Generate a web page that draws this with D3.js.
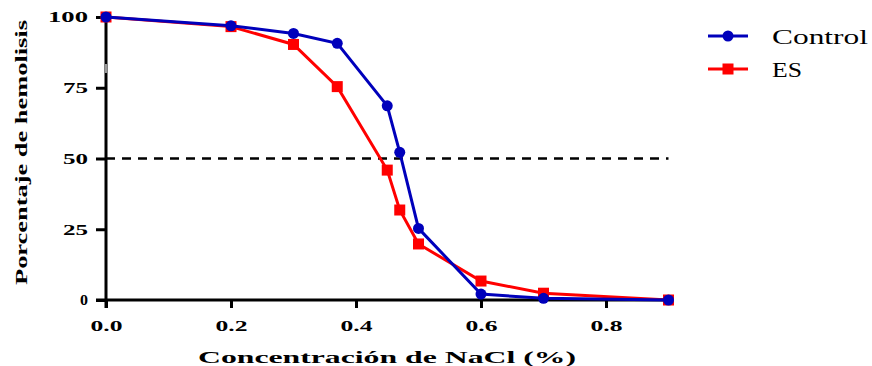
<!DOCTYPE html>
<html>
<head>
<meta charset="utf-8">
<script src="https://cdn.jsdelivr.net/npm/d3@7"></script>
<style>
  body { margin: 0; background: #fff; }
</style>
</head>
<body>
<div id="chart"></div>
<script>
// Data
var nacl      = [0, 0.2, 0.3, 0.37, 0.45, 0.47, 0.5, 0.6, 0.7, 0.9];
var control   = [100, 96.9, 94.2, 90.7, 68.6, 52.2, 25.3, 2.1, 0.6, 0];
var es        = [100, 96.6, 90.3, 75.4, 45.9, 31.8, 19.8, 6.7, 2.4, 0];
var x_ticks   = [0, 0.2, 0.4, 0.6, 0.8];
var y_ticks   = [0, 25, 50, 75, 100];

var chart_width  = 872;
var chart_height = 366;
var serif = 'Liberation Serif';

var x = d3.scaleLinear().domain([0, 0.9]).range([106, 668.5]);
var y = d3.scaleLinear().domain([0, 100]).range([300, 17]);

var svg = d3.select('#chart')
    .append('svg')
    .attr('width', chart_width)
    .attr('height', chart_height);

// stretched text like the original figure
function wide(sel, len){
    sel.style('font-family', serif)
        .attr('textLength', len)
        .attr('lengthAdjust', 'spacingAndGlyphs');
}

// dashed 50% line
svg.append('line')
    .attr('x1', x(0)).attr('x2', x(0.9))
    .attr('y1', y(50)).attr('y2', y(50))
    .attr('stroke', 'black')
    .attr('stroke-width', 2.5)
    .attr('stroke-dasharray', '9,7');

// axes
var x_axis = d3.axisBottom(x)
    .tickValues(x_ticks)
    .tickFormat(d3.format('.1f'))
    .tickSizeInner(8)
    .tickSizeOuter(0)
    .tickPadding(12);

var y_axis = d3.axisLeft(y)
    .tickValues(y_ticks)
    .tickSizeInner(10)
    .tickSizeOuter(0)
    .tickPadding(8);

var gx = svg.append('g')
    .attr('transform', 'translate(0,' + y(0) + ')')
    .call(x_axis);

var gy = svg.append('g')
    .attr('transform', 'translate(' + x(0) + ',0)')
    .call(y_axis);

[gx, gy].forEach(function(g){
    g.select('.domain').attr('stroke-width', 3);
    g.selectAll('.tick line').attr('stroke-width', 3);
    g.selectAll('.tick text')
        .attr('font-weight', 'bold')
        .attr('font-size', 15)
        .attr('fill', 'black');
});
gx.selectAll('.tick text').call(wide, 32);
gy.selectAll('.tick text').each(function(d){
    var n = String(d).length;
    d3.select(this).call(wide, n === 3 ? 40 : n === 2 ? 25 : 8);
});
gx.select('.domain').attr('d', 'M' + (x(0) - 10) + ',0H' + x(0.9));
gy.select('.domain').attr('d', 'M0,' + (y(100) - 1.5) + 'V' + (y(0) + 8));

// small white break mark on the y axis
svg.append('line')
    .attr('x1', x(0)).attr('x2', x(0))
    .attr('y1', 64).attr('y2', 73)
    .attr('stroke', 'white')
    .attr('stroke-width', 1.2);

// series
var series = [
    { name: 'Control', values: control, color: '#0000bb', shape: 'circle', len: 96 },
    { name: 'ES',      values: es,      color: '#ff0000', shape: 'square', len: 30 }
];

var line = d3.line()
    .x(function(d){ return x(d[0]); })
    .y(function(d){ return y(d[1]); });

function draw_marker(g, shape, color, cx, cy){
    if (shape === 'circle') {
        g.append('circle')
            .attr('cx', cx).attr('cy', cy).attr('r', 5.5)
            .attr('fill', color);
    } else {
        g.append('rect')
            .attr('x', cx - 5.5).attr('y', cy - 5.5)
            .attr('width', 11).attr('height', 11)
            .attr('fill', color);
    }
}

// draw ES first so Control sits on top
[series[1], series[0]].forEach(function(s){
    var pts = nacl.map(function(v, i){ return [v, s.values[i]]; });
    var g = svg.append('g');
    g.append('path')
        .attr('d', line(pts))
        .attr('fill', 'none')
        .attr('stroke', s.color)
        .attr('stroke-width', 3);
    pts.forEach(function(p){
        draw_marker(g, s.shape, s.color, x(p[0]), y(p[1]));
    });
});

// legend
series.forEach(function(s, i){
    var ly = 36 + i * 33;
    var g = svg.append('g');
    g.append('line')
        .attr('x1', 708).attr('x2', 748)
        .attr('y1', ly).attr('y2', ly)
        .attr('stroke', s.color)
        .attr('stroke-width', 3);
    draw_marker(g, s.shape, s.color, 728, ly);
    g.append('text')
        .attr('x', 772)
        .attr('y', ly + 8)
        .attr('font-size', 20)
        .attr('fill', 'black')
        .text(s.name)
        .call(wide, s.len);
});

// axis titles
svg.append('text')
    .attr('x', 198)
    .attr('y', 363)
    .attr('font-weight', 'bold')
    .attr('font-size', 16)
    .text('Concentración de NaCl (%)')
    .call(wide, 378);

svg.append('text')
    .attr('transform', 'translate(27,285) rotate(-90)')
    .attr('font-weight', 'bold')
    .attr('font-size', 16.5)
    .text('Porcentaje de hemolisis')
    .call(wide, 265);
</script>
</body>
</html>
